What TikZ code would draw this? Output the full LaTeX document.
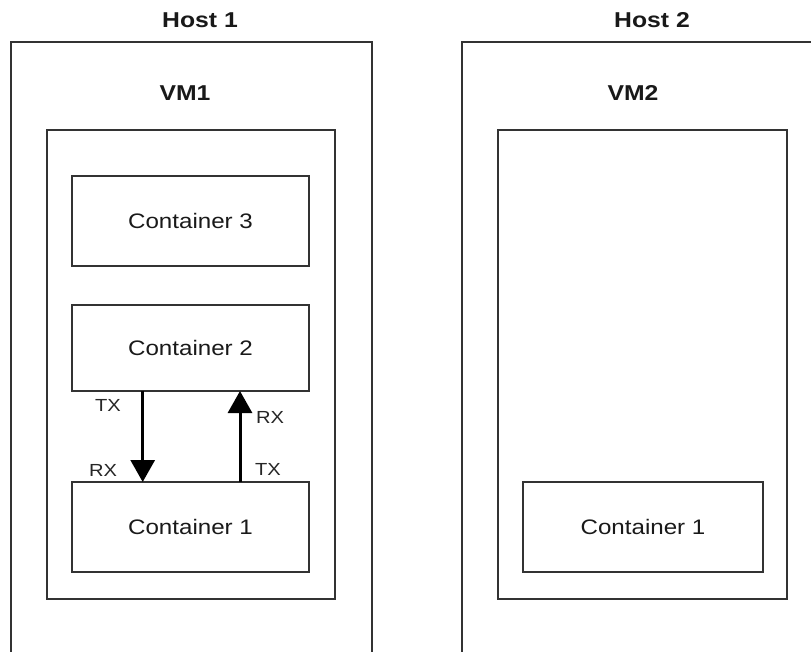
\documentclass[tikz,border=0pt]{standalone}
\usepackage{fontspec}
\setmainfont[FakeStretch=1.15]{Liberation Sans}
\usetikzlibrary{arrows.meta}
\definecolor{edge}{HTML}{333333}
\tikzset{
  box/.style={draw=edge, line width=2.6pt, fill=none, inner sep=0pt, outer sep=0pt, anchor=north west},
  title/.style={font=\fontsize{21.5}{24}\selectfont\bfseries, text=black!90, inner sep=0pt},
  ctext/.style={font=\fontsize{21}{24}\selectfont, text=black!90, inner sep=0pt},
  port/.style={font=\fontsize{17.5}{20}\selectfont, text=black!85, inner sep=0pt},
  arr/.style={line width=3pt, draw=black, -{Triangle[width=24pt,length=22pt]}}
}
\begin{document}
\begin{tikzpicture}[x=1pt,y=-1pt]
\useasboundingbox (0,0) rectangle (811,652);
\clip (0,0) rectangle (811,652);
% hosts
\node[box, minimum width=361pt, minimum height=700pt] (h1) at (11,42) {};
\node[box, minimum width=361pt, minimum height=700pt] (h2) at (462,42) {};
\node[title] (h1t) at (200,20) {Host 1};
\node[title] (h2t) at (652,20) {Host 2};
% VMs
\node[box, minimum width=288pt, minimum height=469pt] (vm1) at (47,130) {};
\node[box, minimum width=289pt, minimum height=469pt] (vm2) at (498,130) {};
\node[title] (vm1t) at (185,93) {VM1};
\node[title] (vm2t) at (633,93) {VM2};
% containers
\node[box, minimum width=237pt, minimum height=90pt] (c3) at (72,176) {};
\node[ctext] at (c3.center) {Container 3};
\node[box, minimum width=237pt, minimum height=86pt] (c2) at (72,305) {};
\node[ctext] at (c2.center) {Container 2};
\node[box, minimum width=237pt, minimum height=90pt] (c1) at (72,482) {};
\node[ctext] at (c1.center) {Container 1};
\node[box, minimum width=240pt, minimum height=90pt] (c1b) at (523,482) {};
\node[ctext] at (c1b.center) {Container 1};
% arrows
\draw[arr] ([xshift=70.7pt]c2.south west) -- ([xshift=70.7pt]c1.north west);
\draw[arr] ([xshift=168pt]c1.north west) -- ([xshift=168pt]c2.south west);
% port labels
\node[port] (tx1) at (108,405) {TX};
\node[port] (rx1) at (103,470) {RX};
\node[port] (rx2) at (270,417) {RX};
\node[port] (tx2) at (268,469) {TX};
\end{tikzpicture}
\end{document}
